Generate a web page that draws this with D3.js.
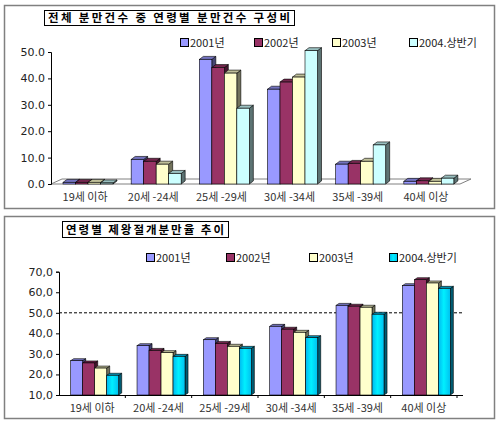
<!DOCTYPE html>
<html>
<head>
<meta charset="utf-8">
<script src="https://cdn.jsdelivr.net/npm/d3@7"></script>
<style>
  body { margin: 0; background: #fff; }
  text { font-family: "Noto Sans CJK KR", "Noto Sans", sans-serif; }
</style>
</head>
<body>
<script>
// age groups and series
var categories = ["19세 이하", "20세 -24세", "25세 -29세", "30세 -34세", "35세 -39세", "40세 이상"];
var series = ["2001년", "2002년", "2003년", "2004.상반기"];

// share of deliveries by age group (%)
var share2001 = [0.6, 9.3, 47.2, 35.9, 7.5, 1.0];
var share2002 = [0.6, 8.6, 44.1, 38.6, 7.8, 1.2];
var share2003 = [0.6, 7.5, 42.0, 40.5, 8.6, 1.0];
var share2004 = [0.4, 4.0, 28.7, 50.5, 14.8, 2.2];

// caesarean rate by age group (%)
var rate2001 = [26.7, 34.0, 36.9, 43.4, 53.6, 63.2];
var rate2002 = [25.6, 31.7, 35.1, 42.0, 53.2, 66.1];
var rate2003 = [23.1, 30.6, 33.7, 40.5, 52.7, 64.5];
var rate2004 = [19.6, 28.8, 32.7, 37.9, 49.3, 61.9];

var topTicks = [0, 10, 20, 30, 40, 50];
var bottomTicks = [10, 20, 30, 40, 50, 60, 70];
var refLine = [50];

var topTitle = "전체 분만건수 중 연령별 분만건수 구성비";
var bottomTitle = "연령별 제왕절개분만율 추이";

var topColors = ["#9999ff", "#993366", "#ffffcc", "#ccffff"];
var bottomColors = ["#9999ff", "#993366", "#ffffcc", "#00ccff"];

var svg = d3.select("body").append("svg")
    .attr("width", 500)
    .attr("height", 425);

var defs = svg.append("defs");
var grad = defs.append("linearGradient").attr("id", "cyan").attr("x1", "0").attr("x2", "1");
grad.append("stop").attr("offset", "0%").attr("stop-color", "#00b8f0");
grad.append("stop").attr("offset", "45%").attr("stop-color", "#00f0ff");
grad.append("stop").attr("offset", "100%").attr("stop-color", "#00c0f0");

// panels
svg.append("rect").attr("x", 4.5).attr("y", 5.5).attr("width", 490).attr("height", 203)
    .attr("fill", "#fff").attr("stroke", "#808080").attr("stroke-width", 1.5);
svg.append("rect").attr("x", 4.5).attr("y", 216.5).attr("width", 490).attr("height", 202)
    .attr("fill", "#fff").attr("stroke", "#808080").attr("stroke-width", 1.5);

function shade(c, k) {
    var h = d3.rgb(c);
    return d3.rgb(h.r * k, h.g * k, h.b * k).toString();
}

function drawTitle(txt, x, y, w, h) {
    svg.append("rect").attr("x", x + 0.5).attr("y", y + 0.5).attr("width", w).attr("height", h)
        .attr("fill", "#fff").attr("stroke", "#000");
    svg.append("text").attr("x", x + 4).attr("y", y + h - 3.5)
        .attr("font-size", 11.5).attr("font-weight", "bold")
        .attr("textLength", w - 8).attr("lengthAdjust", "spacing")
        .text(txt);
}

function drawLegend(xs, y, colors) {
    series.forEach(function(s, i) {
        svg.append("rect").attr("x", xs[i] + 0.5).attr("y", y - 4.5).attr("width", 8).attr("height", 8)
            .attr("fill", colors[i] === "#00ccff" ? "url(#cyan)" : colors[i]).attr("stroke", "#000");
        svg.append("text").attr("x", xs[i] + 10).attr("y", y + 4)
            .attr("font-size", 11).attr("fill", "#222").text(s);
    });
}

function drawBars(g, data, x, xi, y, base, colors, dx, dy) {
    data.forEach(function(vals, si) {
        var front = colors[si] === "#00ccff" ? "url(#cyan)" : colors[si];
        var c = colors[si];
        vals.forEach(function(v, ci) {
            var x0 = x(categories[ci]) + xi(series[si]);
            var w = xi.bandwidth();
            var y0 = y(v);
            var yb = y(base);
            var bar = g.append("g");
            bar.append("polygon")
                .attr("points", [[x0 + w, y0], [x0 + w + dx, y0 + dy], [x0 + w + dx, yb + dy], [x0 + w, yb]].join(" "))
                .attr("fill", shade(c, 0.45)).attr("stroke", "#000").attr("stroke-width", 0.6);
            bar.append("polygon")
                .attr("points", [[x0, y0], [x0 + dx, y0 + dy], [x0 + w + dx, y0 + dy], [x0 + w, y0]].join(" "))
                .attr("fill", shade(c, 0.75)).attr("stroke", "#000").attr("stroke-width", 0.6);
            bar.append("rect")
                .attr("x", x0).attr("y", y0).attr("width", w).attr("height", Math.max(0, yb - y0))
                .attr("fill", front).attr("stroke", "#000").attr("stroke-width", 0.6);
        });
    });
}

// ---------- top chart ----------
var x1 = d3.scaleBand().domain(categories).range([51, 460]);
var xi1 = d3.scaleBand().domain(series).range([12, 62]);
var y1 = d3.scaleLinear().domain([0, 50]).range([184, 52]);
var g1 = svg.append("g");

var fdx = 11, fdy = -5;
g1.append("polygon")
    .attr("points", [[x1.range()[0], y1(0)], [x1.range()[1], y1(0)],
                     [x1.range()[1] + fdx, y1(0) + fdy], [x1.range()[0] + fdx, y1(0) + fdy]].join(" "))
    .attr("fill", "#fff").attr("stroke", "#808080");

drawBars(g1, [share2001, share2002, share2003, share2004], x1, xi1, y1, 0, topColors, 4, -3);

g1.append("g")
    .attr("transform", "translate(51,0)")
    .call(d3.axisLeft(y1).tickValues(topTicks).tickSize(3).tickFormat(d3.format(".1f")))
    .call(function(a) {
        a.select(".domain").attr("stroke", "#000");
        a.selectAll("text").attr("font-size", 12).attr("fill", "#222").attr("x", -6)
            .style("font-family", "'DejaVu Sans', sans-serif").style("font-size", "11px");
    });

g1.append("g")
    .attr("transform", "translate(0,184)")
    .call(d3.axisBottom(x1).tickSize(0).tickPadding(9))
    .call(function(a) {
        a.select(".domain").remove();
        a.selectAll("text").attr("font-size", 11).attr("fill", "#333");
    });

drawTitle(topTitle, 44, 10, 250, 15);
drawLegend([180, 254, 332, 409], 43, topColors);

// ---------- bottom chart ----------
var x2 = d3.scaleBand().domain(categories).range([59, 457]);
var xi2 = d3.scaleBand().domain(series).range([11.7, 59.7]);
var y2 = d3.scaleLinear().domain([10, 70]).range([395, 271.7]);
var g2 = svg.append("g");

g2.selectAll("line.ref").data(refLine).enter().append("line")
    .attr("class", "ref")
    .attr("x1", 59).attr("x2", 463)
    .attr("y1", function(d) { return y2(d); }).attr("y2", function(d) { return y2(d); })
    .attr("stroke", "#000").attr("stroke-dasharray", "3,2");

drawBars(g2, [rate2001, rate2002, rate2003, rate2004], x2, xi2, y2, 10, bottomColors, 3, -2);

g2.append("g")
    .attr("transform", "translate(59,0)")
    .call(d3.axisLeft(y2).tickValues(bottomTicks).tickSize(3)
        .tickFormat(function(d) { return d3.format(".1f")(d).replace(".", ","); }))
    .call(function(a) {
        a.select(".domain").attr("stroke", "#000");
        a.selectAll("text").attr("fill", "#222").attr("x", -6)
            .style("font-family", "'DejaVu Sans', sans-serif").style("font-size", "11px");
    });

var xa2 = g2.append("g")
    .attr("transform", "translate(0,395)")
    .call(d3.axisBottom(x2).tickSize(0).tickPadding(9))
    .call(function(a) {
        a.select(".domain").attr("d", "M59,0.5H463");
        a.selectAll("text").attr("font-size", 11).attr("fill", "#333");
    });

// category boundary ticks
xa2.selectAll("line.sep").data(categories).enter().append("line")
    .attr("class", "sep")
    .attr("x1", function(d) { return x2(d) + x2.bandwidth(); })
    .attr("x2", function(d) { return x2(d) + x2.bandwidth(); })
    .attr("y1", 0).attr("y2", 3).attr("stroke", "#000");

drawTitle(bottomTitle, 62, 221, 166, 16);
drawLegend([146, 226, 309, 389], 258, bottomColors);
</script>
</body>
</html>
